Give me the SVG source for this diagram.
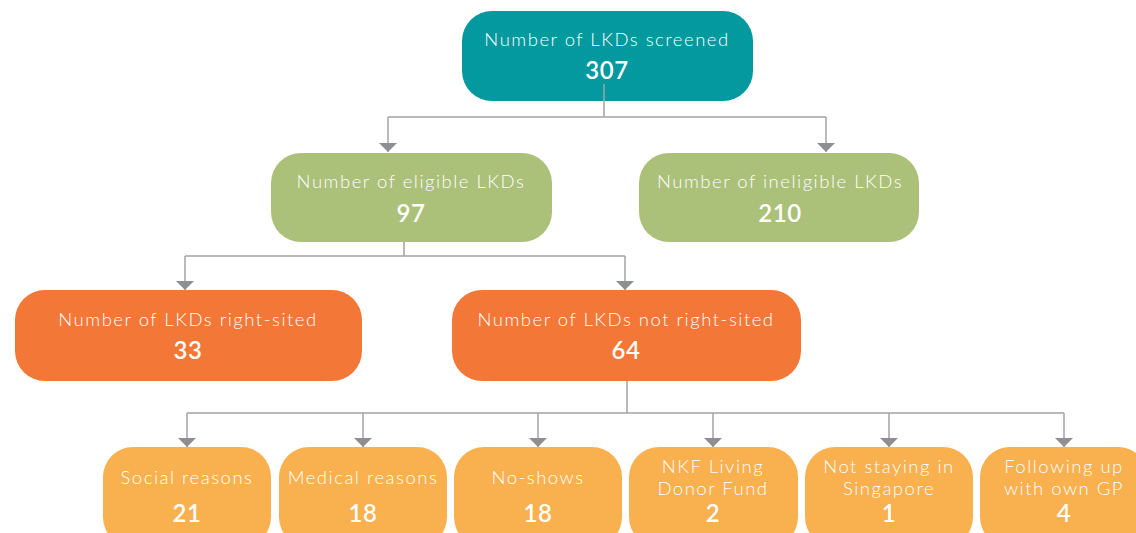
<svg xmlns="http://www.w3.org/2000/svg" width="1136" height="533" viewBox="0 0 1136 533">
  <style>
    .lbl { font-family: Lato, "Open Sans", "Liberation Sans", sans-serif; font-weight: 300; font-size: 18.5px; letter-spacing: 1.5px; fill: #ffffff; text-anchor: middle; }
    .num { font-family: Lato, "Open Sans", "Liberation Sans", sans-serif; font-weight: 600; font-size: 24px; letter-spacing: 0.5px; fill: #ffffff; text-anchor: middle; }
    .teal { fill: #04999F; }
    .green { fill: #ABC17A; }
    .orange { fill: #F37736; }
    .amber { fill: #F9B04F; }
    .conn { stroke: #A3A3A5; stroke-width: 1.5; fill: none; }
    .drop { marker-end: url(#arrow); }
  </style>
  <defs>
    <marker id="arrow" markerUnits="userSpaceOnUse" viewBox="0 -9 9 18" refX="9" refY="0" markerWidth="9" markerHeight="18" orient="auto">
      <path d="M0,-9 L9,0 L0,9 Z" fill="#8E8F93"/>
    </marker>
  </defs>

  <rect width="1136" height="533" fill="#ffffff"/>

  <!-- connectors -->
  <g id="connectors">
    <path class="conn" d="M604,84 V117 M388,117 H826"/>
    <path class="conn drop" d="M388,117 V152"/>
    <path class="conn drop" d="M826,117 V152"/>

    <path class="conn" d="M404,242 V256 M185,256 H625"/>
    <path class="conn drop" d="M185,256 V290"/>
    <path class="conn drop" d="M625,256 V290"/>

    <path class="conn" d="M627,381 V413 M187,413 H1064"/>
    <path class="conn drop" d="M187,413 V447"/>
    <path class="conn drop" d="M363,413 V447"/>
    <path class="conn drop" d="M538,413 V447"/>
    <path class="conn drop" d="M713,413 V447"/>
    <path class="conn drop" d="M889,413 V447"/>
    <path class="conn drop" d="M1064,413 V447"/>
  </g>

  <!-- level 1 -->
  <g id="screened">
    <rect class="teal" x="462" y="11" width="291" height="90" rx="30"/>
    <path class="conn" d="M604,84 V101"/>
    <text class="lbl" x="607" y="46">Number of LKDs screened</text>
    <text class="num" x="607" y="79">307</text>
  </g>

  <!-- level 2 -->
  <g id="eligible">
    <rect class="green" x="271" y="153" width="281" height="89" rx="30"/>
    <text class="lbl" x="411" y="188">Number of eligible LKDs</text>
    <text class="num" x="411" y="222">97</text>
  </g>
  <g id="ineligible">
    <rect class="green" x="639" y="153" width="280" height="89" rx="30"/>
    <text class="lbl" x="780" y="188">Number of ineligible LKDs</text>
    <text class="num" x="780" y="222">210</text>
  </g>

  <!-- level 3 -->
  <g id="right-sited">
    <rect class="orange" x="15" y="290" width="347" height="91" rx="30"/>
    <text class="lbl" x="188" y="326">Number of LKDs right-sited</text>
    <text class="num" x="188" y="359">33</text>
  </g>
  <g id="not-right-sited">
    <rect class="orange" x="452" y="290" width="349" height="91" rx="30"/>
    <text class="lbl" x="626" y="326">Number of LKDs not right-sited</text>
    <text class="num" x="626" y="359">64</text>
  </g>

  <!-- level 4 -->
  <g id="social">
    <rect class="amber" x="103" y="447" width="168" height="100" rx="30"/>
    <text class="lbl" x="187" y="484">Social reasons</text>
    <text class="num" x="187" y="522">21</text>
  </g>
  <g id="medical">
    <rect class="amber" x="279" y="447" width="168" height="100" rx="30"/>
    <text class="lbl" x="363" y="484">Medical reasons</text>
    <text class="num" x="363" y="522">18</text>
  </g>
  <g id="no-shows">
    <rect class="amber" x="454" y="447" width="168" height="100" rx="30"/>
    <text class="lbl" x="538" y="484">No-shows</text>
    <text class="num" x="538" y="522">18</text>
  </g>
  <g id="nkf-fund">
    <rect class="amber" x="629" y="447" width="169" height="100" rx="30"/>
    <text class="lbl" x="713" y="473">NKF Living</text>
    <text class="lbl" x="713" y="495">Donor Fund</text>
    <text class="num" x="713" y="522">2</text>
  </g>
  <g id="overseas">
    <rect class="amber" x="805" y="447" width="168" height="100" rx="30"/>
    <text class="lbl" x="889" y="473">Not staying in</text>
    <text class="lbl" x="889" y="495">Singapore</text>
    <text class="num" x="889" y="522">1</text>
  </g>
  <g id="own-gp">
    <rect class="amber" x="980" y="447" width="168" height="100" rx="30"/>
    <text class="lbl" x="1064" y="473">Following up</text>
    <text class="lbl" x="1064" y="495">with own GP</text>
    <text class="num" x="1064" y="522">4</text>
  </g>
</svg>
